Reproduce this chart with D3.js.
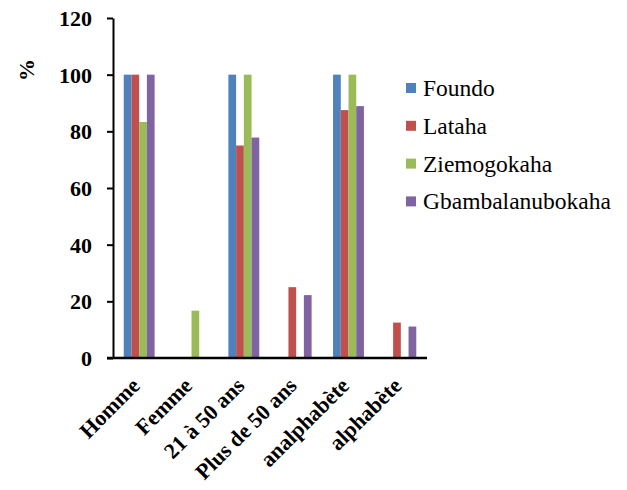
<!DOCTYPE html>
<html>
<head>
<meta charset="utf-8">
<script src="https://cdn.jsdelivr.net/npm/d3@7"></script>
</head>
<body style="margin:0; background:#fff">
<svg id="chart" width="627" height="490"></svg>
<script>
// Categories along the x axis
const categories = ["Homme", "Femme", "21 à 50 ans", "Plus de 50 ans", "analphabète", "alphabète"];
// One series per village (percent)
const seriesNames = ["Foundo", "Lataha", "Ziemogokaha", "Gbambalanubokaha"];
const foundo = [100, 0, 100, 0, 100, 0];
const lataha = [100, 0, 75, 25, 87.5, 12.5];
const ziemogokaha = [83.3, 16.7, 100, 0, 100, 0];
const gbambalanubokaha = [100, 0, 77.8, 22.2, 88.9, 11.1];
const yTicks = [0, 20, 40, 60, 80, 100, 120];
const colors = ["#4F81BD", "#C0504D", "#9BBB59", "#8064A2"];

const seriesValues = [foundo, lataha, ziemogokaha, gbambalanubokaha];
const SERIF = "Liberation Serif";

const svg = d3.select("#chart");
const plot = { left: 113, right: 427, top: 18, bottom: 358 };

const x0 = d3.scaleBand().domain(categories).range([plot.left, plot.right]).paddingInner(0.41).paddingOuter(0.205);
const x1 = d3.scaleBand().domain(seriesNames).range([0, x0.bandwidth()]);
const y = d3.scaleLinear().domain([0, 120]).range([plot.bottom, plot.top]);

// Bars
const groups = svg.append("g").selectAll("g")
  .data(categories)
  .join("g")
  .attr("transform", d => `translate(${x0(d)},0)`);

groups.selectAll("rect")
  .data((c, i) => seriesNames.map((s, k) => ({ s, k, v: seriesValues[k][i] })))
  .join("rect")
  .filter(d => d.v > 0)
  .attr("x", d => x1(d.s))
  .attr("width", x1.bandwidth())
  .attr("y", d => y(d.v))
  .attr("height", d => y(0) - y(d.v))
  .attr("fill", d => colors[d.k]);

// Y axis
const yAxis = svg.append("g")
  .attr("transform", `translate(${plot.left},0)`)
  .call(d3.axisLeft(y).tickValues(yTicks).tickSize(6).tickSizeOuter(0).tickPadding(15));
yAxis.attr("font-family", SERIF);
yAxis.select(".domain").attr("stroke", "#000").attr("stroke-width", 2);
yAxis.selectAll(".tick line").attr("stroke", "#000").attr("stroke-width", 2);
yAxis.selectAll(".tick text")
  .attr("fill", "#000")
  .attr("font-family", SERIF)
  .attr("font-size", 22)
  .attr("font-weight", "bold")
  .attr("dy", "0.34em");

// X axis
const xAxis = svg.append("g")
  .attr("transform", `translate(0,${plot.bottom})`)
  .call(d3.axisBottom(x0).tickSize(0).tickSizeOuter(0).tickPadding(0));
xAxis.attr("font-family", SERIF);
xAxis.select(".domain").attr("stroke", "#000").attr("stroke-width", 2.5)
  .attr("d", `M${plot.left - 6},0H${plot.right}`);
xAxis.selectAll(".tick text")
  .attr("fill", "#000")
  .attr("font-family", SERIF)
  .attr("font-size", 22)
  .attr("font-weight", "bold")
  .attr("text-anchor", "end")
  .attr("dy", 0)
  .attr("y", 0)
  .attr("transform", "translate(2,29) rotate(-45)");

// Y axis title
svg.append("text")
  .attr("transform", "translate(34,70) rotate(-90)")
  .attr("text-anchor", "middle")
  .attr("font-family", SERIF)
  .attr("font-size", 22)
  .attr("font-weight", "bold")
  .text("%");

// Legend
const legend = svg.append("g").attr("transform", "translate(406,88)");
const items = legend.selectAll("g")
  .data(seriesNames)
  .join("g")
  .attr("transform", (d, i) => `translate(0,${i * 37.8})`);
items.append("rect")
  .attr("x", 0).attr("y", -5)
  .attr("width", 10).attr("height", 10)
  .attr("fill", (d, i) => colors[i]);
items.append("text")
  .attr("x", 17)
  .attr("dy", "0.34em")
  .attr("font-family", SERIF)
  .attr("font-size", 23.5)
  .text(d => d);
</script>
</body>
</html>
